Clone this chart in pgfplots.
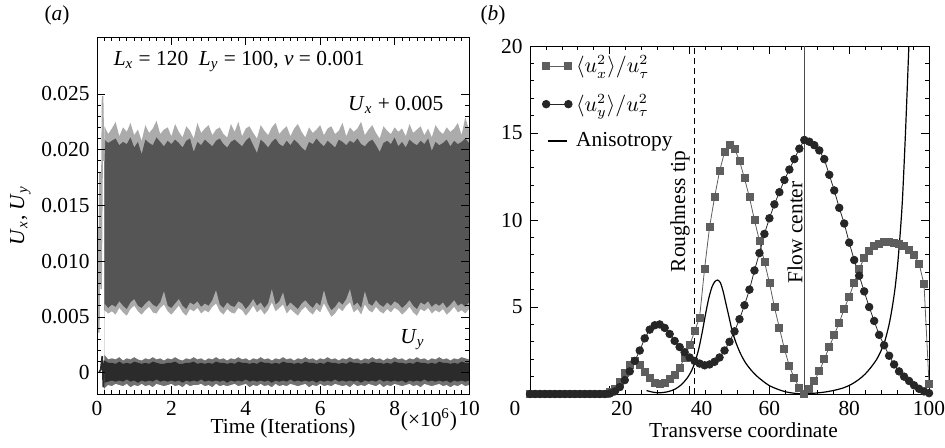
\documentclass[border=0pt]{standalone}
\usepackage{fontspec}
\setmainfont{Liberation Serif}
\usepackage{pgfplots}
\pgfplotsset{compat=1.18}
\usepackage{pgfplotstable}

\definecolor{uxlight}{HTML}{ABABAB}
\definecolor{uxdark}{HTML}{555555}
\definecolor{uylight}{HTML}{727272}
\definecolor{uydark}{HTML}{2B2B2B}
\definecolor{sqgray}{HTML}{5E5E5E}
\definecolor{circ}{HTML}{262626}

\newcommand{\sub}[2]{\textit{#1}\textsubscript{\textit{#2}}}

% envelopes of the velocity signals, in units of 1e-3
% uo/ui: outer/inner top of U_x band, li/lo: inner/outer bottom
% vo/vi, wi/wo: the same for U_y
\pgfplotstableread{
x    uo   ui   li   lo   vo   vi   wi    wo
0.2  22.1 20.9 6.2  5.6  1.6  1.1  -0.9  -1.4
0.3  21.4 20.6 5.8  5.3  1.2  0.9  -0.8  -1.1
0.4  21.9 20.8 6.1  5.5  1.3  0.9  -0.7  -1.2
0.5  22.5 21.0 5.9  5.2  1.2  0.8  -0.8  -1.0
0.6  21.2 20.4 6.4  5.8  1.4  1.0  -0.7  -1.1
0.7  22.0 20.7 6.0  5.4  1.1  0.8  -0.8  -1.2
0.8  21.6 20.5 5.7  5.1  1.3  0.9  -0.6  -1.0
0.9  22.4 21.1 6.3  5.7  1.2  0.8  -0.8  -1.3
1.0  21.3 20.2 6.6  6.0  1.4  1.0  -0.7  -1.1
1.1  21.8 20.7 6.0  5.5  1.2  0.9  -0.9  -1.2
1.2  20.8 19.6 5.8  5.2  1.1  0.8  -0.7  -1.0
1.3  22.2 20.9 6.2  5.6  1.3  0.9  -0.8  -1.2
1.4  21.5 20.6 6.5  5.9  1.2  0.8  -0.7  -1.1
1.5  21.9 20.4 6.1  5.4  1.4  1.0  -0.8  -1.3
1.6  22.6 21.1 5.9  5.3  1.2  0.9  -0.6  -1.0
1.7  21.4 20.7 6.3  5.8  1.3  0.8  -0.8  -1.1
1.8  21.8 20.3 7.3  6.1  1.1  0.8  -0.7  -1.2
1.9  22.0 20.8 6.0  5.5  1.3  0.9  -0.8  -1.1
2.0  21.2 20.5 5.8  5.2  1.2  0.9  -0.7  -1.0
2.1  22.3 20.9 6.2  5.6  1.4  1.0  -0.8  -1.2
2.2  21.6 20.6 6.6  6.0  1.2  0.8  -0.7  -1.1
2.3  21.1 20.2 6.0  5.4  1.1  0.8  -0.9  -1.3
2.4  22.1 20.8 5.7  5.1  1.3  0.9  -0.7  -1.0
2.5  21.7 21.0 6.3  5.7  1.2  0.9  -0.8  -1.2
2.6  21.0 19.8 6.1  5.5  1.4  1.0  -0.7  -1.1
2.7  22.4 20.7 6.4  5.8  1.2  0.8  -0.8  -1.1
2.8  21.5 20.4 5.9  5.3  1.3  0.9  -0.6  -1.0
2.9  21.9 20.9 6.2  5.6  1.1  0.8  -0.8  -1.2
3.0  22.2 20.6 6.0  5.4  1.3  0.9  -0.7  -1.1
3.1  21.3 20.3 6.5  5.9  1.2  0.8  -0.8  -1.3
3.2  21.8 20.8 7.4  6.2  1.4  1.0  -0.7  -1.0
3.3  22.0 21.0 6.1  5.5  1.2  0.9  -0.8  -1.2
3.4  21.4 20.5 5.8  5.2  1.3  0.9  -0.7  -1.1
3.5  21.1 20.2 6.3  5.7  1.1  0.8  -0.9  -1.2
3.6  22.3 20.7 6.0  5.4  1.3  0.9  -0.7  -1.1
3.7  21.6 20.9 5.9  5.3  1.2  0.8  -0.8  -1.0
3.8  22.5 20.6 6.4  5.8  1.4  1.0  -0.7  -1.2
3.9  21.2 20.3 6.2  5.6  1.2  0.9  -0.8  -1.1
4.0  21.9 20.8 5.7  5.1  1.3  0.9  -0.6  -1.0
4.1  22.1 21.1 6.1  5.5  1.1  0.8  -0.8  -1.3
4.2  21.5 20.4 6.6  6.0  1.3  0.9  -0.7  -1.1
4.3  21.0 19.7 6.0  5.4  1.2  0.8  -0.8  -1.2
4.4  22.2 20.9 6.3  5.7  1.4  1.0  -0.7  -1.0
4.5  21.7 20.6 5.8  5.2  1.2  0.9  -0.8  -1.2
4.6  21.3 20.2 6.2  5.6  1.3  0.9  -0.7  -1.1
4.7  22.0 20.7 7.5  6.3  1.1  0.8  -0.9  -1.3
4.8  22.4 21.0 6.1  5.5  1.3  0.9  -0.7  -1.0
4.9  21.4 20.5 6.4  5.8  1.2  0.8  -0.8  -1.2
5.0  21.8 20.3 7.2  6.1  1.4  1.0  -0.7  -1.1
5.1  22.1 20.8 5.9  5.3  1.2  0.9  -0.8  -1.2
5.2  21.2 20.4 6.3  5.7  1.3  0.9  -0.6  -1.0
5.3  21.9 20.9 6.0  5.4  1.1  0.8  -0.8  -1.1
5.4  22.3 20.6 5.7  5.1  1.3  0.9  -0.7  -1.2
5.5  21.6 20.2 6.2  5.6  1.2  0.8  -0.8  -1.1
5.6  21.1 19.9 6.5  5.9  1.4  1.0  -0.7  -1.0
5.7  22.0 20.7 6.1  5.5  1.2  0.9  -0.8  -1.3
5.8  21.5 20.5 5.8  5.2  1.3  0.9  -0.7  -1.1
5.9  21.8 21.0 6.3  5.7  1.1  0.8  -0.9  -1.2
6.0  22.2 20.6 6.0  5.4  1.3  0.9  -0.7  -1.0
6.1  21.3 20.3 7.4  6.2  1.2  0.8  -0.8  -1.2
6.2  21.9 20.8 6.2  5.6  1.4  1.0  -0.7  -1.1
6.3  22.1 20.5 5.6  5.0  1.2  0.9  -0.8  -1.2
6.4  21.4 20.2 5.9  5.3  1.3  0.9  -0.6  -1.0
6.5  21.7 20.9 6.4  5.8  1.1  0.8  -0.8  -1.1
6.6  22.4 20.7 6.1  5.5  1.3  0.9  -0.7  -1.2
6.7  21.2 20.4 6.6  6.0  1.2  0.8  -0.8  -1.1
6.8  22.0 20.8 7.5  6.3  1.4  1.0  -0.7  -1.3
6.9  21.6 20.6 6.0  5.4  1.2  0.9  -0.8  -1.0
7.0  21.9 21.0 6.3  5.7  1.3  0.9  -0.7  -1.2
7.1  22.5 20.5 5.8  5.2  1.1  0.8  -0.9  -1.1
7.2  21.3 20.3 7.3  6.1  1.3  0.9  -0.7  -1.2
7.3  21.8 20.7 6.2  5.6  1.2  0.8  -0.8  -1.0
7.4  22.2 20.9 6.0  5.4  1.4  1.0  -0.7  -1.1
7.5  21.5 20.4 6.5  5.9  1.2  0.9  -0.8  -1.2
7.6  21.0 19.8 6.1  5.5  1.3  0.9  -0.6  -1.0
7.7  22.1 20.6 5.9  5.3  1.1  0.8  -0.8  -1.3
7.8  21.7 20.8 6.3  5.7  1.3  0.9  -0.7  -1.1
7.9  21.4 20.5 6.0  5.4  1.2  0.8  -0.8  -1.2
8.0  22.0 21.1 6.4  5.8  1.4  1.0  -0.7  -1.0
8.1  21.6 20.3 6.2  5.6  1.2  0.9  -0.8  -1.1
8.2  21.9 20.7 5.8  5.2  1.3  0.9  -0.7  -1.2
8.3  21.2 20.2 6.1  5.5  1.1  0.8  -0.9  -1.1
8.4  22.3 20.9 6.5  5.9  1.3  0.9  -0.7  -1.0
8.5  21.5 20.6 6.0  5.4  1.2  0.8  -0.8  -1.2
8.6  21.8 20.4 5.7  5.1  1.4  1.0  -0.7  -1.1
8.7  22.1 20.8 6.3  5.7  1.2  0.9  -0.8  -1.3
8.8  21.3 20.5 6.1  5.5  1.3  0.9  -0.6  -1.0
8.9  21.9 21.0 6.4  5.8  1.1  0.8  -0.8  -1.1
9.0  21.1 19.9 5.9  5.3  1.3  0.9  -0.7  -1.2
9.1  22.2 20.7 6.2  5.6  1.2  0.8  -0.8  -1.1
9.2  21.7 20.4 6.0  5.4  1.4  1.0  -0.7  -1.0
9.3  21.4 20.6 6.3  5.7  1.2  0.9  -0.8  -1.2
9.4  22.0 20.9 5.8  5.2  1.3  0.9  -0.7  -1.1
9.5  21.6 20.3 6.1  5.5  1.1  0.8  -0.9  -1.3
9.6  21.9 20.8 6.5  5.9  1.3  0.9  -0.7  -1.1
9.7  22.4 20.5 6.0  5.4  1.2  0.8  -0.8  -1.2
9.8  21.3 20.7 6.2  5.6  1.4  1.0  -0.7  -1.0
9.9  22.9 21.0 5.9  5.3  1.3  0.9  -0.8  -1.2
10.0 21.8 20.6 6.3  5.7  1.2  0.9  -0.7  -1.1
}\noise

\pgfplotstableread{
x     ux    uy
0     0.0   0.0
1.25  0.0   0.0
2.5   0.0   0.0
3.75  0.0   0.0
5     0.0   0.0
6.25  0.0   0.0
7.5   0.0   0.0
8.75  0.0   0.0
10    0.0   0.0
11.25 0.0   0.0
12.5  0.0   0.0
13.75 0.0   0.0
15    0.0   0.0
16.25 0.0   0.0
17.5  0.0   0.0
18.75 0.02  0.0
20    0.1   0.03
21.25 0.3   0.15
22.5  0.7   0.4
23.75 1.2   0.8
25    1.7   1.3
26.25 1.9   1.9
27.5  1.7   2.5
28.75 1.25  3.2
30    0.9   3.7
31.25 0.65  3.95
32.5  0.6   4.0
33.75 0.65  3.8
35    0.85  3.45
36.25 1.1   3.05
37.5  1.5   2.7
38.75 2.1   2.4
40    2.8   2.1
41.25 3.6   1.9
42.5  4.4   1.75
43.75 7.2   1.65
45    9.6   1.7
46.25 11.3  1.85
47.5  12.8  2.1
48.75 13.9  2.5
50    14.3  3.0
51.25 14.1  3.6
52.5  13.4  4.3
53.75 12.4  5.1
55    11.3  6.0
56.25 10.0  7.1
57.5  8.8   8.1
58.75 7.6   9.2
60    6.4   10.1
61.25 5.0   10.9
62.5  3.8   11.6
63.75 2.6   12.3
65    1.6   12.9
66.25 0.9   13.5
67.5  0.35  14.1
68.75 0.03  14.6
70    0.3   14.5
71.25 0.75  14.3
72.5  1.3   14.0
73.75 2.0   13.5
75    2.7   12.6
76.25 3.4   11.7
77.5  4.1   10.7
78.75 4.9   9.8
80    5.6   8.7
81.25 6.4   7.7
82.5  7.2   6.8
83.75 7.8   5.9
85    8.2   5.0
86.25 8.5   4.2
87.5  8.65  3.4
88.75 8.75  2.8
90    8.75  2.2
91.25 8.7   1.7
92.5  8.65  1.3
93.75 8.5   1.0
95    8.3   0.75
96.25 8.0   0.5
97.5  7.5   0.3
98.75 6.3   0.15
100   0.6   0.05
}\profiles

\pgfplotsset{
  every axis/.append style={
    scale only axis,
    tick align=inside,
    major tick length=4pt,
    minor tick length=2pt,
    tick style={black, thin},
    /pgf/number format/assume math mode=true,
  },
  % filled band edge: data curve closed down to the bottom of panel (a)
  band/.style={draw=none, fill=#1, forget plot},
  twomarks/.style={legend image code/.code={%
    \draw[mark repeat=1,##1] plot coordinates {(0cm,0cm) (0.39cm,0cm)};}},
  lineonly/.style={legend image code/.code={%
    \draw[##1] (0.03cm,0cm) -- (0.36cm,0cm);}},
}
\newcommand{\down}{-- (axis cs:10,-1.9) -- (axis cs:0.2,-1.9) -- cycle}

\begin{document}
\fontsize{10.7}{12.8}\selectfont
\begin{tikzpicture}

% ---------------- (a) ----------------
\begin{axis}[
  at={(48.5pt,26.5pt)}, anchor=south west,
  width=186pt, height=178.5pt,
  xmin=0, xmax=10, ymin=-1.9, ymax=30.1,
  xtick={0,2,...,10},
  ytick={0,5,10,15,20,25},
  yticklabels={0,0.005,0.010,0.015,0.020,0.025},
  minor x tick num=9, minor y tick num=4,
  axis on top,
  xlabel={Time (Iterations)},
  xlabel style={yshift=6pt},
  ylabel={\sub{U}{x}, \sub{U}{y}},
  ylabel style={yshift=-2pt},
]
  \addplot[band=uxlight] table[x=x,y=uo]{\noise} \down;
  \addplot[band=uxdark]  table[x=x,y=ui]{\noise} \down;
  \addplot[band=uxlight] table[x=x,y=li]{\noise} \down;
  \addplot[band=white]   table[x=x,y=lo]{\noise} \down;
  \addplot[uxlight, line width=0.8pt, forget plot] coordinates {
    (0.02,13) (0.05,3.6) (0.08,18) (0.11,7.5) (0.15,24.8) (0.18,19) (0.2,20.9)};

  \addplot[band=uylight] table[x=x,y=vo]{\noise} \down;
  \addplot[band=uydark]  table[x=x,y=vi]{\noise} \down;
  \addplot[band=uylight] table[x=x,y=wi]{\noise} \down;
  \addplot[band=white]   table[x=x,y=wo]{\noise} \down;
  \addplot[uydark, line width=0.8pt, forget plot] coordinates {
    (0.05,0) (0.1,0.3) (0.14,1.5) (0.17,-1.3) (0.2,1.1)};

  \node[anchor=west] at (axis cs:0.25,27.9) {\sub{L}{x} = 120\enspace\sub{L}{y} = 100, \textit{ν} = 0.001};
  \node[anchor=west] at (axis cs:6.55,24.0) {\sub{U}{x} + 0.005};
  \node[anchor=west] at (axis cs:7.95,3.0) {\sub{U}{y}};
\end{axis}
\node at (214.5pt,13.5pt) {(×10\textsuperscript{6})};
\node at (28.5pt,216pt) {(\textit{a})};
\node at (246.5pt,216pt) {(\textit{b})};

% ---------------- (b) ----------------
\begin{axis}[
  at={(265pt,26.5pt)}, anchor=south west,
  width=199.5pt, height=174pt,
  xmin=0, xmax=100, ymin=0, ymax=20,
  xtick={0,20,...,100},
  xticklabels={\makebox[0pt]{\hspace{-15pt}0},\makebox[0pt]{\hspace{12pt}20},\makebox[0pt]{\hspace{12pt}40},60,80,100},
  ytick={0,5,...,20},
  yticklabels={,5,10,15,20},
  minor x tick num=4, minor y tick num=4,
  xlabel={Transverse coordinate},
  xlabel style={xshift=7pt, yshift=4pt},
  legend cell align=left,
  legend style={draw=none, fill=none, at={(0.025,0.99)}, anchor=north west,
    row sep=5pt, inner sep=1pt},
]
  \addplot[black, densely dashed, thin, forget plot] coordinates {(41.3,0) (41.3,20)};
  \addplot[black!70, thin, forget plot] coordinates {(68.75,0) (68.75,20)};

  \addplot[sqgray, thin, mark=square*, mark size=1.75pt, twomarks]
    table[x=x,y=ux]{\profiles};
  \addlegendentry{$\langle u_x^2\rangle/u_\tau^2$}

  \addplot[circ, thin, mark=*, mark size=1.9pt, twomarks]
    table[x=x,y=uy]{\profiles};
  \addlegendentry{$\langle u_y^2\rangle/u_\tau^2$}

  \addplot[black, line width=0.6pt, smooth, lineonly]
    coordinates {
    (29.2,0.2) (30.5,0.12) (32,0.07) (33.5,0.09) (35,0.16) (36.5,0.3)
    (38,0.55) (39.5,0.95) (40.5,1.35) (41.3,1.8) (42.3,2.6) (43.2,3.6)
    (44,4.6) (44.8,5.5) (45.6,6.15) (46.3,6.45) (47,6.55) (47.7,6.4)
    (48.4,5.9) (49.1,5.2) (49.9,4.4) (50.7,3.6) (51.7,2.9) (52.8,2.3)
    (54,1.8) (55.5,1.35) (57,1.0) (58.5,0.72) (60,0.48) (62,0.28)
    (64,0.13) (66,0.05) (68.7,0.0) (71,0.04) (73.5,0.1) (76,0.2)
    (78.5,0.35) (80.5,0.55) (82.5,0.85) (84,1.15) (85.5,1.55) (86.9,2.0)
    (88,2.5) (89,3.1) (90,4.0) (90.8,5.0) (91.5,6.1) (92.2,7.6)
    (92.8,9.3) (93.3,11.0) (93.7,12.9) (94.1,15.0) (94.5,17.3) (94.9,19.7)
    (95.2,21.5)};
  \addlegendentry{Anisotropy}

  \node[rotate=90] at (axis cs:37.6,10.5) {Roughness tip};
  \node[rotate=90] at (axis cs:66.4,9.3) {Flow center};
\end{axis}
% fix the picture frame to the reference's extent
\pgfresetboundingbox
\path (0pt,0pt) rectangle (472.5pt,223.5pt);
\end{tikzpicture}
\end{document}
